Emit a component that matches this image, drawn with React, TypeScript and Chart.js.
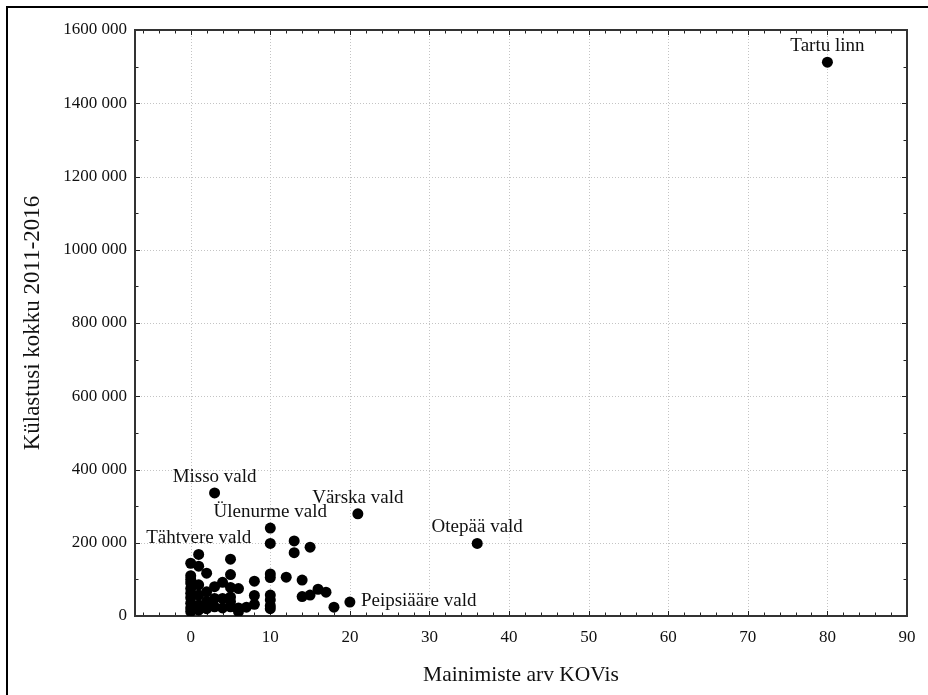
import React, { useEffect, useRef } from "react";
import { Chart, registerables } from "chart.js";

Chart.register(...registerables);

// ---- data ----
const labelledNames = [
  "Tartu linn",
  "Misso vald",
  "Värska vald",
  "Ülenurme vald",
  "Otepää vald",
  "Tähtvere vald",
  "Peipsiääre vald",
];
const labelledMentions = [80, 3, 21, 10, 36, 1, 20];
const labelledVisits = [1512000, 336000, 279000, 240000, 198000, 168000, 38000];

const otherMentions = [
  10, 13, 13, 15, 0, 1, 2, 5, 5, 0, 0, 0, 0, 0, 0, 0, 0, 0,
  1, 1, 1, 1, 2, 2, 2, 3, 3, 3, 4, 4, 4, 5, 5, 5, 5, 6, 6, 6,
  7, 8, 8, 8, 10, 10, 10, 10, 10, 10, 12, 14, 14, 15, 16, 17, 18,
];
const otherVisits = [
  198000, 205000, 173000, 188000, 144000, 136000, 117000, 155000, 113000,
  110000, 100000, 90000, 75000, 62000, 50000, 35000, 22000, 12000,
  85000, 57000, 30000, 16000, 66000, 40000, 20000, 80000, 48000, 25000,
  92000, 48000, 22000, 78000, 52000, 39000, 25000, 75000, 22000, 12000,
  24000, 95000, 56000, 32000, 115000, 105000, 57000, 44000, 28000, 20000,
  106000, 98000, 53000, 57000, 73000, 65000, 24000,
];

const xTicks = [0, 10, 20, 30, 40, 50, 60, 70, 80, 90];
const yTicks = [0, 200000, 400000, 600000, 800000, 1000000, 1200000, 1400000, 1600000];
const xMinorStep = 2;
const yMinorStep = 100000;
const xTitle = "Mainimiste arv KOVis";
const yTitle = "Külastusi kokku 2011-2016";

const SERIF = "'Liberation Serif', 'Times New Roman', serif";

function fmt(v: number): string {
  if (v < 1000) return String(v);
  const thousands = Math.floor(v / 1000);
  const rest = String(v % 1000).padStart(3, "0");
  return `${thousands} ${rest}`;
}

const decorPlugin = {
  id: "decor",
  beforeDatasetsDraw(chart: any) {
    const { ctx, chartArea: a, scales } = chart;
    const x = scales.x;
    const y = scales.y;
    ctx.save();
    // outer frame of the figure
    ctx.fillStyle = "#000";
    ctx.fillRect(6, 6, chart.width, 2);
    ctx.fillRect(6, 6, 2, chart.height);

    // dotted grid
    ctx.strokeStyle = "#c4c4c4";
    ctx.lineWidth = 1;
    ctx.setLineDash([1, 2]);
    for (const v of xTicks) {
      const px = Math.round(x.getPixelForValue(v)) + 0.5;
      if (px <= a.left + 2 || px >= a.right - 2) continue;
      ctx.beginPath();
      ctx.moveTo(px, a.top);
      ctx.lineTo(px, a.bottom);
      ctx.stroke();
    }
    for (const v of yTicks) {
      const py = Math.round(y.getPixelForValue(v)) + 0.5;
      if (py <= a.top + 2 || py >= a.bottom - 2) continue;
      ctx.beginPath();
      ctx.moveTo(a.left, py);
      ctx.lineTo(a.right, py);
      ctx.stroke();
    }
    ctx.setLineDash([]);

    // inside tick marks on all four sides
    ctx.strokeStyle = "#222";
    ctx.lineWidth = 1;
    const xStart = Math.ceil(x.min / xMinorStep) * xMinorStep;
    for (let v = xStart; v <= x.max; v += xMinorStep) {
      const major = xTicks.includes(v);
      const len = major ? 5 : 3.5;
      const px = Math.round(x.getPixelForValue(v)) + 0.5;
      ctx.beginPath();
      ctx.moveTo(px, a.bottom);
      ctx.lineTo(px, a.bottom - len);
      ctx.moveTo(px, a.top);
      ctx.lineTo(px, a.top + len);
      ctx.stroke();
    }
    for (let v = y.min; v <= y.max; v += yMinorStep) {
      const major = yTicks.includes(v);
      const len = major ? 5 : 3.5;
      const py = Math.round(y.getPixelForValue(v)) + 0.5;
      ctx.beginPath();
      ctx.moveTo(a.left, py);
      ctx.lineTo(a.left + len, py);
      ctx.moveTo(a.right, py);
      ctx.lineTo(a.right - len, py);
      ctx.stroke();
    }

    // plot frame
    ctx.strokeStyle = "#333";
    ctx.lineWidth = 2;
    ctx.strokeRect(a.left, a.top, a.right - a.left, a.bottom - a.top);
    ctx.restore();
  },
  afterDatasetsDraw(chart: any) {
    const { ctx } = chart;
    const meta = chart.getDatasetMeta(1);
    ctx.save();
    ctx.font = `19px ${SERIF}`;
    ctx.fillStyle = "#111";
    meta.data.forEach((pt: any, i: number) => {
      const name = labelledNames[i];
      if (name === "Peipsiääre vald") {
        ctx.textAlign = "left";
        ctx.textBaseline = "middle";
        ctx.fillText(name, pt.x + 11, pt.y - 1);
      } else {
        ctx.textAlign = "center";
        ctx.textBaseline = "middle";
        ctx.fillText(name, pt.x, pt.y - 16);
      }
    });
    ctx.restore();
  },
};

export default function App() {
  const ref = useRef<HTMLCanvasElement | null>(null);

  useEffect(() => {
    if (!ref.current) return;
    const chart = new Chart(ref.current, {
      type: "scatter",
      data: {
        datasets: [
          {
            label: "muud",
            data: otherMentions.map((m, i) => ({ x: m, y: otherVisits[i] })),
            backgroundColor: "#000",
            borderWidth: 0,
            pointRadius: 5.5,
          },
          {
            label: "nimetatud",
            data: labelledMentions.map((m, i) => ({ x: m, y: labelledVisits[i] })),
            backgroundColor: "#000",
            borderWidth: 0,
            pointRadius: 5.5,
          },
        ],
      },
      options: {
        animation: false,
        responsive: false,
        devicePixelRatio: 1,
        layout: { padding: { left: 0, right: 21, top: 30, bottom: 0 } },
        plugins: {
          legend: { display: false },
          tooltip: { enabled: false },
        },
        scales: {
          x: {
            type: "linear",
            position: "bottom",
            min: -7,
            max: 90,
            afterBuildTicks: (s: any) => {
              s.ticks = xTicks.map((v) => ({ value: v }));
            },
            afterFit: (s: any) => {
              s.height = 79;
            },
            grid: { display: false, drawTicks: false },
            border: { display: false },
            ticks: {
              padding: 11,
              color: "#111",
              font: { family: SERIF, size: 17 },
              maxRotation: 0,
              autoSkip: false,
            },
            title: {
              display: true,
              text: xTitle,
              color: "#111",
              font: { family: SERIF, size: 21.5 },
              padding: { top: 0, bottom: 7 },
            },
          },
          y: {
            type: "linear",
            position: "left",
            min: 0,
            max: 1600000,
            afterBuildTicks: (s: any) => {
              s.ticks = yTicks.map((v) => ({ value: v }));
            },
            afterFit: (s: any) => {
              s.width = 135;
            },
            grid: { display: false, drawTicks: false },
            border: { display: false },
            ticks: {
              padding: 8,
              color: "#111",
              font: { family: SERIF, size: 17 },
              autoSkip: false,
              callback: (v: any) => fmt(Number(v)),
            },
            title: {
              display: true,
              text: yTitle,
              color: "#111",
              font: { family: SERIF, size: 23 },
              padding: { top: 19, bottom: 0 },
            },
          },
        },
      },
      plugins: [decorPlugin],
    });
    return () => chart.destroy();
  }, []);

  return (
    <div style={{ position: "fixed", left: 0, top: 0, width: 928, height: 695, background: "#fff" }}>
      <canvas ref={ref} width={928} height={695} style={{ width: 928, height: 695, display: "block" }} />
    </div>
  );
}
